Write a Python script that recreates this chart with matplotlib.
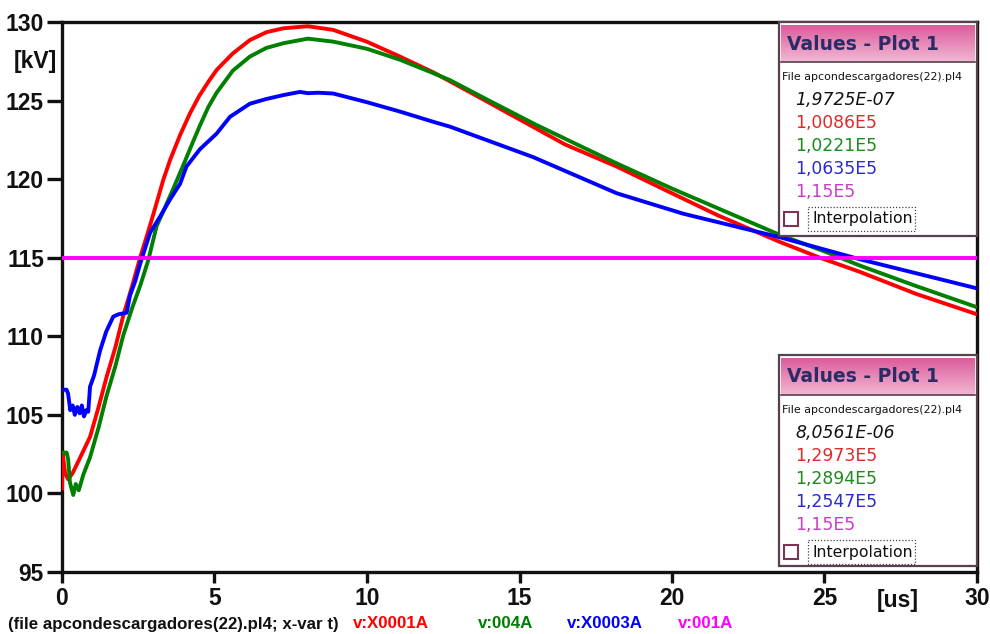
import numpy as np
import matplotlib
matplotlib.use("Agg")
import matplotlib.pyplot as plt
from matplotlib.patches import Rectangle

plt.rcParams['font.family'] = ['Liberation Sans', 'DejaVu Sans']

# ---- data (time in us, voltage in kV) ----
t_red = [0.0, 0.02, 0.1, 0.2, 0.35, 0.6, 0.92, 1.2, 1.46, 1.75, 2.0, 2.3, 2.56, 2.8, 3.0,
         3.32, 3.54, 3.87, 4.2, 4.5, 4.8, 5.07, 5.6, 6.16, 6.7, 7.26, 8.06, 8.89, 9.99, 11.08,
         12.17, 13.5, 15.0, 16.5, 18.19, 20.0, 21.5, 23.54, 24.85, 26.16, 28.0, 30.0]
v_red = [100.2, 102.6, 101.3, 100.9, 101.3, 102.3, 103.6, 105.5, 107.4, 109.3, 111.25, 113.2,
         115.0, 116.5, 117.8, 119.95, 121.2, 122.8, 124.2, 125.3, 126.2, 126.95, 128.0, 128.85,
         129.35, 129.6, 129.73, 129.5, 128.75, 127.8, 126.8, 125.4, 123.8, 122.2, 120.8, 119.1,
         117.7, 116.0, 115.0, 114.1, 112.7, 111.4]

t_green = [0.0, 0.15, 0.2, 0.26, 0.3, 0.37, 0.45, 0.55, 0.7, 0.92, 1.2, 1.46, 1.75, 2.0, 2.3,
           2.56, 2.83, 3.1, 3.4, 3.65, 3.98, 4.3, 4.52, 4.8, 5.07, 5.6, 6.16, 6.7, 7.26, 8.06,
           8.89, 9.99, 11.08, 12.17, 12.72, 14.0, 15.5, 17.0, 18.19, 20.0, 21.8, 23.54, 25.0,
           26.16, 28.0, 30.0]
v_green = [102.6, 102.6, 102.2, 100.7, 100.4, 99.9, 100.6, 100.2, 101.2, 102.3, 104.2, 106.2,
           108.1, 110.0, 111.8, 113.2, 114.85, 117.0, 118.3, 119.4, 120.9, 122.4, 123.4, 124.6,
           125.5, 126.9, 127.8, 128.35, 128.65, 128.94, 128.75, 128.3, 127.6, 126.75, 126.3,
           125.0, 123.5, 122.1, 121.0, 119.4, 117.9, 116.45, 115.4, 114.5, 113.2, 111.85]

t_blue = [0.0, 0.15, 0.2, 0.27, 0.35, 0.42, 0.5, 0.58, 0.65, 0.72, 0.8, 0.86, 0.92, 1.05, 1.25,
          1.45, 1.68, 1.85, 2.12, 2.23, 2.4, 2.56, 2.89, 3.21, 3.54, 3.87, 4.08, 4.52, 5.07,
          5.51, 6.16, 6.7, 7.26, 7.8, 8.06, 8.4, 8.89, 9.99, 11.08, 12.17, 12.72, 15.45, 18.19,
          20.37, 23.54, 26.16, 30.0]
v_blue = [106.6, 106.6, 106.35, 105.3, 105.6, 105.0, 105.5, 105.1, 105.6, 104.9, 105.3, 105.2,
          106.8, 107.5, 109.1, 110.3, 111.25, 111.4, 111.5, 112.6, 113.5, 114.6, 116.6, 117.6,
          118.7, 119.7, 120.8, 121.9, 122.9, 123.97, 124.8, 125.1, 125.35, 125.55, 125.47, 125.5,
          125.45, 124.9, 124.3, 123.65, 123.34, 121.4, 119.1, 117.8, 116.3, 114.9, 113.05]

t_mag = [0.0, 30.0]
v_mag = [115.0, 115.0]

series_names = ["v:X0001A", "v:004A", "v:X0003A", "v:001A"]
line_colors = ["#ff0000", "#008000", "#0000ff", "#ff00ff"]
text_colors = ["#e02a2a", "#1f8a1f", "#2a2ad0", "#cc3ccc"]

x_ticks = [0, 5, 10, 15, 20, 25, 30]
y_ticks = [95, 100, 105, 110, 115, 120, 125, 130]

cursor1_time = "1,9725E-07"
cursor1_vals = ["1,0086E5", "1,0221E5", "1,0635E5", "1,15E5"]
cursor2_time = "8,0561E-06"
cursor2_vals = ["1,2973E5", "1,2894E5", "1,2547E5", "1,15E5"]
file_name = "apcondescargadores(22).pl4"

# ---- figure ----
W, H = 990, 634
fig = plt.figure(figsize=(W / 100, H / 100), dpi=100)
ax = fig.add_axes([62 / W, 1 - 572 / H, (977 - 62) / W, (572 - 22) / H])

for t, v, c in zip([t_red, t_green, t_blue, t_mag], [v_red, v_green, v_blue, v_mag],
                   line_colors):
    ax.plot(t, v, color=c, lw=2.8, solid_joinstyle='round', solid_capstyle='butt', zorder=3)

ax.set_xlim(0, 30)
ax.set_ylim(95, 130)
ax.set_xticks(x_ticks)
ax.set_yticks(y_ticks)
for sp in ax.spines.values():
    sp.set_linewidth(2.4)
    sp.set_color("#111111")
ax.tick_params(axis='y', direction='out', length=11, width=2.4, pad=2,
               labelsize=16.5, colors="#111111")
ax.tick_params(axis='x', direction='out', length=8, width=2.4, pad=3,
               labelsize=16.5, colors="#111111")
for lab in ax.get_xticklabels() + ax.get_yticklabels():
    lab.set_fontweight('bold')

ax.text(-0.005, 0.928, "[kV]", transform=ax.transAxes, ha='right', va='center',
        fontsize=16.5, fontweight='bold', color="#111111")
ax.text(0.913, -0.052, "[us]", transform=ax.transAxes, ha='center', va='center',
        fontsize=16.5, fontweight='bold', color="#111111")

# ---- footer with file name and series ----
fig.text(8 / W, 1 - 624 / H, f"(file {file_name}; x-var t)", ha='left', va='center',
         fontsize=12.2, fontweight='bold', color="#111111")
footer_x = [353, 478, 567, 678]
for name, col, xp in zip(series_names, line_colors, footer_x):
    fig.text(xp / W, 1 - 624 / H, name, ha='left', va='center', fontsize=12.2,
             fontweight='bold', color=col)

# ---- cursor value panels ----
ov = fig.add_axes([0, 0, 1, 1], zorder=10)
ov.set_xlim(0, W)
ov.set_ylim(H, 0)
ov.axis('off')
ov.patch.set_alpha(0)

grad = np.linspace(0, 1, 64)[:, None]
c_top = np.array([0.86, 0.36, 0.61])
c_bot = np.array([0.95, 0.72, 0.83])
grad_img = (c_top[None, None, :] * (1 - grad[..., None]) + c_bot[None, None, :] * grad[..., None])
grad_img = np.repeat(grad_img, 2, axis=1)

panel_font = ['DejaVu Sans']


def panel(y0, y1, tstr, vals):
    x0, x1 = 779, 977
    ov.add_patch(Rectangle((x0, y0), x1 - x0, y1 - y0, facecolor='white',
                           edgecolor='#5a3f4f', lw=1.6, zorder=1))
    ov.imshow(grad_img, extent=(x0 + 2, x1 - 2, y0 + 40, y0 + 3), aspect='auto',
              zorder=2, interpolation='bilinear')
    ov.plot([x0 + 2, x1 - 2], [y0 + 40, y0 + 40], color='#5a3f4f', lw=1.2, zorder=3)
    ov.text(x0 + 8, y0 + 22, "Values - Plot 1", fontsize=13.5, fontweight='bold',
            family=panel_font, color='#2b2b66', ha='left', va='center', zorder=4)
    ov.text(x0 + 3, y0 + 55, f"File {file_name}", fontsize=7.9, color='#111111',
            family=panel_font, ha='left', va='center', zorder=4)
    ov.text(x0 + 16, y0 + 78, tstr, fontsize=12.4, style='italic', color='#111111',
            family=panel_font, ha='left', va='center', zorder=4)
    for i, (v, c) in enumerate(zip(vals, text_colors)):
        ov.text(x0 + 16, y0 + 101 + 23 * i, v, fontsize=12.4, color=c,
                family=panel_font, ha='left', va='center', zorder=4)
    cy = y0 + 197
    ov.add_patch(Rectangle((x0 + 5, cy - 7), 14, 14, facecolor='white',
                           edgecolor='#7a3555', lw=1.5, zorder=4))
    ov.add_patch(Rectangle((x0 + 29, cy - 12), 107, 24, facecolor='none',
                           edgecolor='#444444', lw=0.9, ls=(0, (1, 1.5)), zorder=4))
    ov.text(x0 + 33, cy, "Interpolation", fontsize=11.3, color='#111111',
            family=panel_font, ha='left', va='center', zorder=5)


panel(22, 236, cursor1_time, cursor1_vals)
panel(355, 566, cursor2_time, cursor2_vals)

fig.savefig("out.png", dpi=100, facecolor='white')
